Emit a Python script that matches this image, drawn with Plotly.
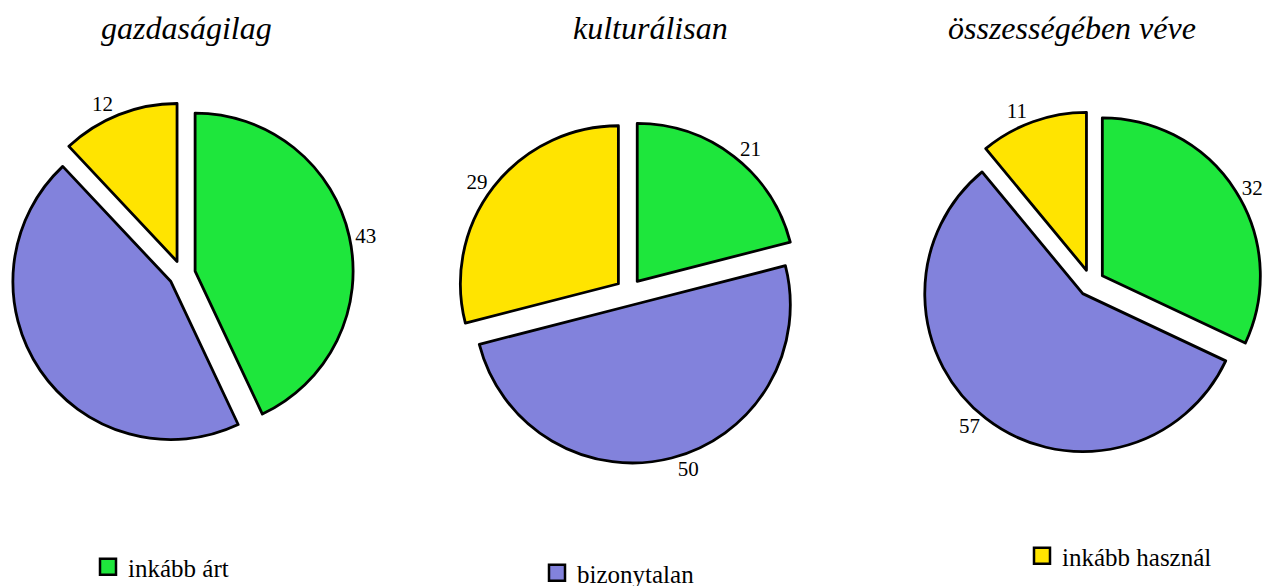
import plotly.graph_objects as go

# Adatok
titles = ['gazdaságilag', 'kulturálisan', 'összességében véve']
labels = ['inkább árt', 'bizonytalan', 'inkább használ']
gazdasagi = [43, 45, 12]
kulturalis = [21, 50, 29]
osszesseg = [32, 57, 11]
colors = ['#1ee63c', '#8282dc', '#ffe400']

W, H = 1277, 586
SERIF = '"Times New Roman", "Liberation Serif", Times, serif'

# Kördiagramok középpontja és sugara pixelben
centers = [(174, 266), (621, 284), (1083, 275)]
radius = 158
pull = 0.085
box = radius * (1 + pull)

def domain(cx, cy):
    return dict(
        x=[(cx - box) / W, (cx + box) / W],
        y=[1 - (cy + box) / H, 1 - (cy - box) / H],
    )

fig = go.Figure()

series = [gazdasagi, kulturalis, osszesseg]
textpos = [
    ['outside', 'none', 'outside'],
    ['outside', 'outside', 'outside'],
    ['outside', 'outside', 'outside'],
]
for vals, (cx, cy), tp in zip(series, centers, textpos):
    fig.add_trace(go.Pie(
        labels=labels,
        values=vals,
        sort=False,
        direction='clockwise',
        rotation=0,
        pull=[pull] * 3,
        textinfo='value',
        textposition=tp,
        marker=dict(colors=colors, line=dict(color='black', width=2.8)),
        textfont=dict(family=SERIF, size=21, color='black'),
        domain=domain(cx, cy),
        showlegend=False,
        hoverinfo='label+value',
    ))

# Jelmagyarázat: három külön legend
legend_names = ['legend', 'legend2', 'legend3']
for lab, col, lg in zip(labels, colors, legend_names):
    fig.add_trace(go.Scatter(
        x=[None], y=[None], mode='markers', name=lab,
        marker=dict(symbol='square', size=16, color=col,
                    line=dict(color='black', width=2.5)),
        legend=lg, showlegend=True,
    ))

legend_style = dict(
    font=dict(family=SERIF, size=25, color='black'),
    bgcolor='rgba(0,0,0,0)', xanchor='left', yanchor='middle',
)
fig.update_layout(
    legend=dict(x=80 / W, y=1 - 559 / H, **legend_style),
    legend2=dict(x=529 / W, y=1 - 565 / H, **legend_style),
    legend3=dict(x=1014 / W, y=1 - 548 / H, **legend_style),
)

# Címek
title_x = [178, 642, 1064]
for t, tx in zip(titles, title_x):
    fig.add_annotation(
        text=f'<i>{t}</i>', x=tx / W, y=1 - 20 / H,
        xref='paper', yref='paper', showarrow=False,
        xanchor='center', yanchor='middle',
        font=dict(family=SERIF, size=32, color='black'),
    )

fig.update_layout(
    width=W, height=H,
    margin=dict(l=0, r=0, t=0, b=0, autoexpand=False),
    font=dict(family=SERIF),
    paper_bgcolor='white', plot_bgcolor='white',
    xaxis=dict(visible=False), yaxis=dict(visible=False),
)

fig.write_html('out.html')
